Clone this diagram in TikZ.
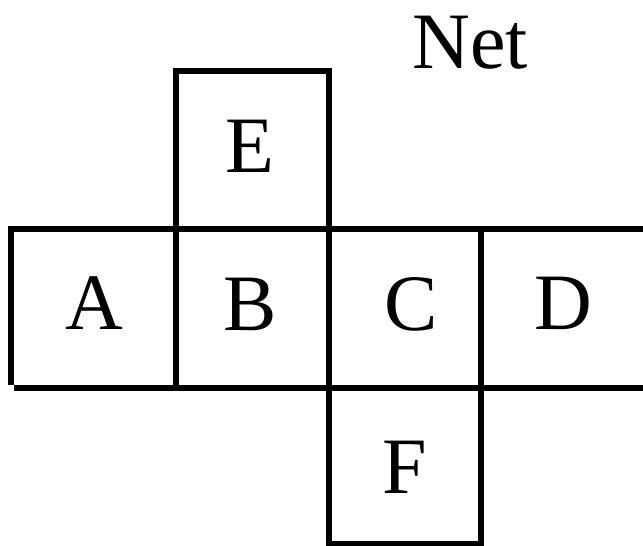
\documentclass[tikz,border=0pt]{standalone}
\usepackage{fontspec}
\setmainfont{Liberation Serif}
\begin{document}
\begin{tikzpicture}[x=1pt,y=-1pt,
  edge/.style={line width=6pt,line cap=butt},
  lbl/.style={anchor=base,inner sep=0pt,font=\fontsize{80}{80}\selectfont}]
\useasboundingbox (0,0) rectangle (643,546);
% lines
\draw[edge] (8,229) -- (643,229);
\draw[edge] (14,388) -- (643,388);
\draw[edge] (11,226) -- (11,385);
\draw[edge] (176,68) -- (176,391);
\draw[edge] (329,68) -- (329,546);
\draw[edge] (481,226) -- (481,546);
\draw[edge] (173,71) -- (332,71);
\draw[edge] (326,543.5) -- (484,543.5);
% labels
\node[lbl] (net) at (470,68) {Net};
\node[lbl] (e) at (250,172) {E};
\node[lbl] (a) at (94,329) {A};
\node[lbl] (b) at (250,330) {B};
\node[lbl] (c) at (411,330) {C};
\node[lbl] (d) at (563,329) {D};
\node[lbl] (f) at (405,493) {F};
\end{tikzpicture}
\end{document}
